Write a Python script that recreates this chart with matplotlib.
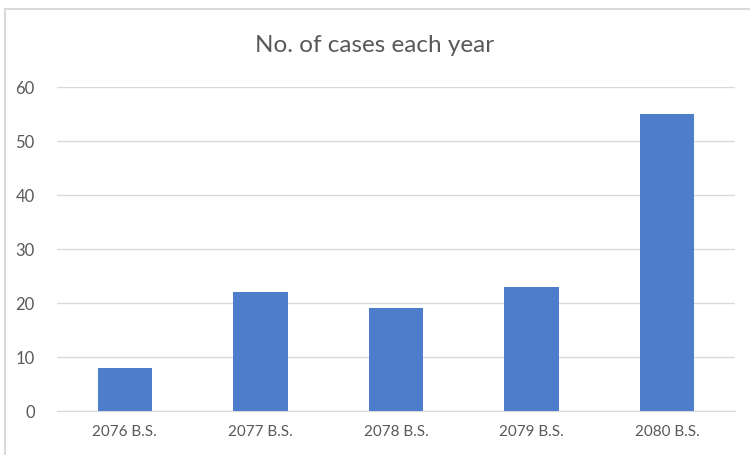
import matplotlib
matplotlib.use("Agg")
from matplotlib import pyplot as plt
from matplotlib.patches import Rectangle

years = ["2076 B.S.", "2077 B.S.", "2078 B.S.", "2079 B.S.", "2080 B.S."]
cases = [8, 22, 19, 23, 55]
yticks = [0, 10, 20, 30, 40, 50, 60]

plt.rcParams['font.family'] = ['Lato', 'DejaVu Sans']

fig = plt.figure(figsize=(7.5, 4.55), dpi=100)
# chart border (only top and left edges visible in the reference)
fig.patches.append(Rectangle((5/750, -0.1), 1.2, 1 - 9/455 + 0.1, transform=fig.transFigure,
                             fill=False, edgecolor='#d9d9d9', linewidth=1.5))

ax = fig.add_axes([57/750, 1 - 411/455, 678/750, 324/455])
x = range(len(years))
ax.bar(x, cases, width=0.4, color='#4e7dcb', zorder=3)
ax.set_xlim(-0.5, len(years) - 0.5)
ax.set_ylim(0, 60)
ax.set_yticks(yticks)
ax.set_xticks(list(x))
ax.set_xticklabels(years)
ax.grid(axis='y', color='#d9d9d9', linewidth=1, zorder=0)
for s in ['top', 'right', 'left']:
    ax.spines[s].set_visible(False)
ax.spines['bottom'].set_color('#d9d9d9')
ax.tick_params(axis='both', length=0, labelcolor='#595959')
ax.tick_params(axis='y', pad=16, labelsize=12)
ax.tick_params(axis='x', pad=10, labelsize=11)

fig.text(0.5, 1 - 45/455, "No. of cases each year", ha='center', va='center',
         fontsize=17.5, color='#595959')

fig.savefig("out.png", dpi=100)
